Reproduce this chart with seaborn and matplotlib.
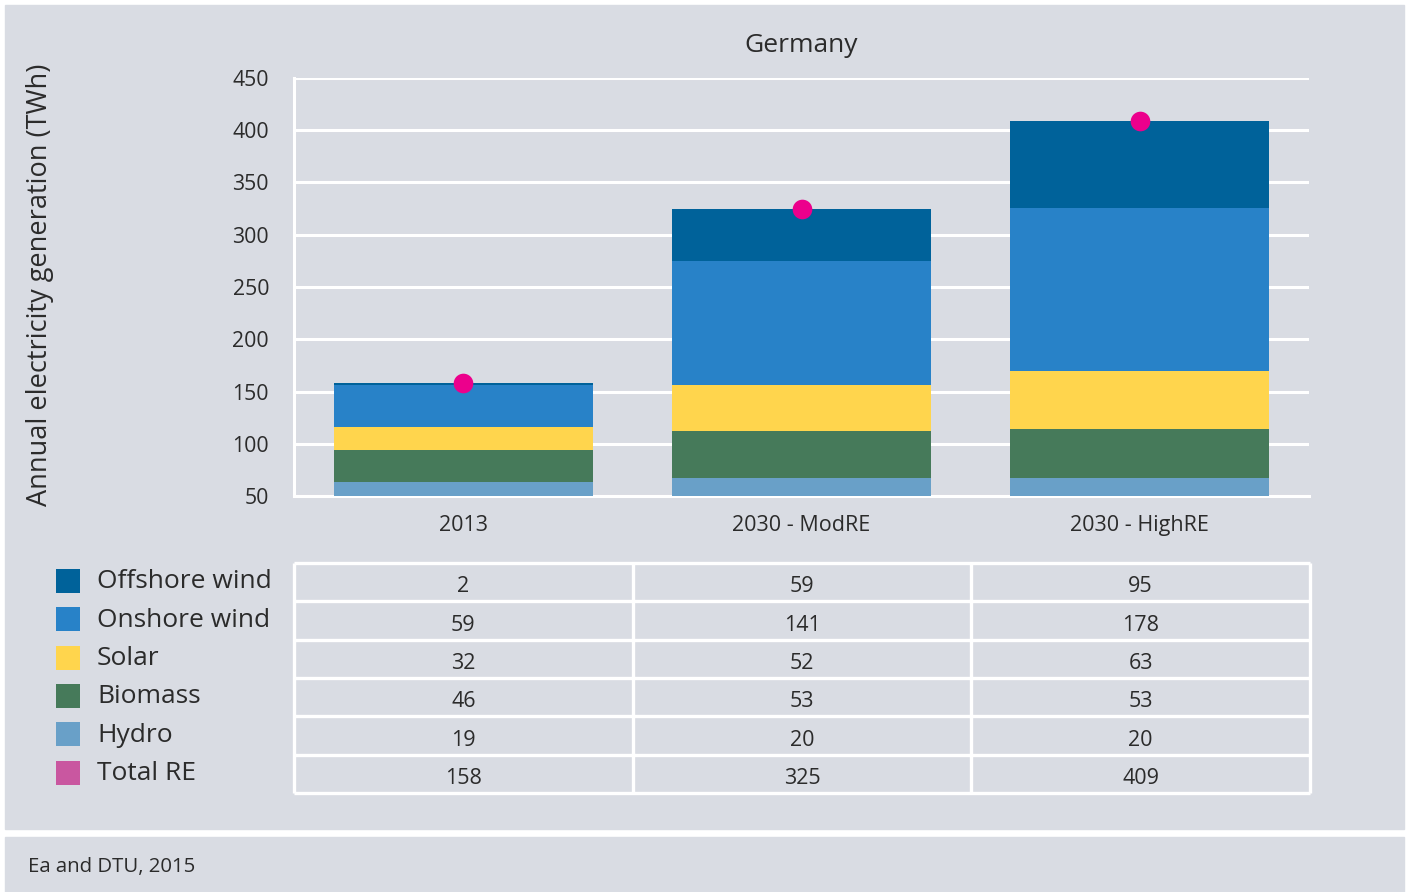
import numpy as np
import pandas as pd
import matplotlib
matplotlib.use("Agg")
import matplotlib.pyplot as plt
from matplotlib.patches import Rectangle
import seaborn as sns

# ---------------- data ----------------
categories = ["2013", "2030 - ModRE", "2030 - HighRE"]
series_names = ["Offshore wind", "Onshore wind", "Solar", "Biomass", "Hydro"]
offshore = [2, 59, 95]
onshore = [59, 141, 178]
solar = [32, 52, 63]
biomass = [46, 53, 53]
hydro = [19, 20, 20]
total_re = [158, 325, 409]
y_ticks = [50, 100, 150, 200, 250, 300, 350, 400, 450]
title = "Germany"
y_label = "Annual electricity generation (TWh)"
source = "Ea and DTU, 2015"

# ---------------- style ----------------
W, H = 1407, 892
BG = "#d9dce3"
TXT = "#2b2b2b"
series_colors = {"Offshore wind": "#00629a", "Onshore wind": "#2882c8",
                 "Solar": "#ffd54d", "Biomass": "#467a5a", "Hydro": "#69a0c8"}
dot_color = "#ec008c"
total_legend_color = "#c957a0"

sns.set_theme(style="white")
plt.rcParams["font.family"] = ["Open Sans", "DejaVu Sans"]

fig = plt.figure(figsize=(W / 100, H / 100), dpi=100)
fig.patch.set_facecolor("white")

def px(x0, y0, x1, y1):
    return [x0 / W, 1 - y1 / H, (x1 - x0) / W, (y1 - y0) / H]

# background panels
fig.add_artist(Rectangle((5 / W, 1 - 829 / H), (1404 - 5) / W, (829 - 5) / H,
                         transform=fig.transFigure, color=BG, zorder=-10))
fig.add_artist(Rectangle((5 / W, 0), (1404 - 5) / W, (892 - 837) / H,
                         transform=fig.transFigure, color=BG, zorder=-10))

# ---------------- chart ----------------
ax = fig.add_axes(px(294, 78, 1309, 496))
ax.patch.set_alpha(0)
y_min = y_ticks[0]

df = pd.DataFrame({"category": categories, "Offshore wind": offshore,
                   "Onshore wind": onshore, "Solar": solar,
                   "Biomass": biomass, "Hydro": hydro, "Total": total_re})
# bars start at the axis floor; segments scaled so the stack ends at the total
scale = (df["Total"] - y_min) / df["Total"]
stack_order = ["Hydro", "Biomass", "Solar", "Onshore wind", "Offshore wind"]
cum = np.zeros(len(df))
tops = {}
for s in stack_order:
    cum = cum + df[s].values * scale.values
    tops[s] = y_min + cum
for s in reversed(stack_order):
    sns.barplot(x=df["category"], y=tops[s], color=series_colors[s],
                saturation=1, width=0.766, ax=ax, zorder=2, linewidth=0)

sns.scatterplot(x=df["category"], y=df["Total"], color=dot_color, s=200,
                linewidth=0, ax=ax, zorder=4, clip_on=False)

ax.set_ylim(y_ticks[0], y_ticks[-1])
ax.set_xlim(-0.5, len(categories) - 0.5)
ax.set_yticks(y_ticks)
ax.set_yticklabels([str(t) for t in y_ticks], fontsize=15.3, color=TXT)
ax.set_xticks(range(len(categories)))
ax.set_xticklabels(categories, fontsize=15.5, color=TXT)
ax.set_xticks(np.arange(-0.5, len(categories)), minor=True)
ax.tick_params(axis="y", length=0, pad=18)
ax.tick_params(axis="x", which="major", length=0, pad=14)
ax.tick_params(axis="x", which="minor", length=14, width=2.2, color="white",
               direction="out")
ax.set_xlabel("")
ax.set_ylabel("")
ax.grid(axis="y", color="white", linewidth=2.2)
ax.grid(axis="x", visible=False)
ax.set_axisbelow(True)
for side in ["top", "right"]:
    ax.spines[side].set_visible(False)
for side in ["left", "bottom"]:
    ax.spines[side].set_color("white")
    ax.spines[side].set_linewidth(2.2)
    ax.spines[side].set_zorder(1)
ax.set_title(title, fontsize=19, color=TXT, pad=19)

fig.text(40 / W, 1 - 285 / H, y_label, rotation=90, ha="center", va="center",
         fontsize=19.5, color=TXT)

# ---------------- data table ----------------
rows = series_names + ["Total RE"]
row_values = [offshore, onshore, solar, biomass, hydro, total_re]
tab = fig.add_axes(px(294, 563, 1310, 793))
tab.patch.set_alpha(0)
tab.set_xlim(-0.5, len(categories) - 0.5)
tab.set_ylim(len(rows), 0)
tab.axis("off")
tab.hlines(np.arange(len(rows) + 1), -0.5, len(categories) - 0.5,
           color="white", linewidth=2.4, clip_on=False)
tab.vlines(np.arange(-0.5, len(categories)), 0, len(rows),
           color="white", linewidth=2.4, clip_on=False)
for r, vals in enumerate(row_values):
    for c, v in enumerate(vals):
        tab.text(c, r + 0.62, str(v), ha="center", va="center",
                 fontsize=15.5, color=TXT)

# legend
leg = fig.add_axes(px(0, 563, 294, 793))
leg.patch.set_alpha(0)
leg.set_xlim(0, 294)
leg.set_ylim(len(rows), 0)
leg.axis("off")
legend_colors = [series_colors[s] for s in series_names] + [total_legend_color]
for r, (name, colr) in enumerate(zip(rows, legend_colors)):
    leg.scatter([67.5], [r + 0.47], marker="s", s=280, color=colr, linewidth=0,
                clip_on=False)
    leg.text(97, r + 0.49, name, ha="left", va="center", fontsize=19,
             color=TXT)

fig.text(28 / W, 1 - 867 / H, source, ha="left", va="center", fontsize=14.7,
         color=TXT)

fig.savefig("out.png", dpi=100, facecolor=fig.get_facecolor())
